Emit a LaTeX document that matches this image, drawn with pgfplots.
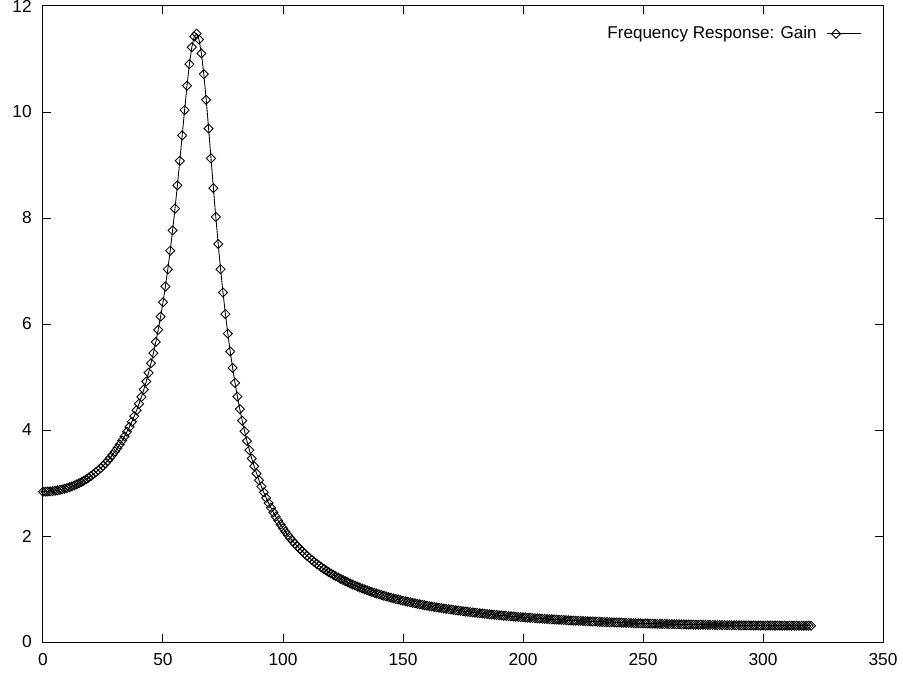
\documentclass[border=0pt]{standalone}
\usepackage{pgfplots}
\pgfplotsset{compat=1.18}
\usepackage{fontspec}
\setmainfont{Liberation Sans}
\begin{document}
\fontsize{12.8}{15.3}\selectfont
\begin{tikzpicture}
\useasboundingbox (-32.25pt,-25.5pt) rectangle (645pt,481.5pt);
\begin{axis}[
  at={(0pt,0pt)}, anchor=south west,
  scale only axis, width=630pt, height=477pt,
  xmin=0, xmax=350, ymin=0, ymax=12,
  xtick={0,50,...,350}, ytick={0,2,...,12},
  tick align=inside, major tick length=6pt,
  tick style={black, line width=0.75pt},
  axis line style={line width=0.75pt},
  every tick label/.append style={font=\fontsize{13}{15.5}\selectfont},
  /pgf/number format/assume math mode=true,
  yticklabel style={xshift=-4pt},
  xticklabel style={yshift=-4pt},
  clip=false,
  legend style={draw=none, fill=none, at={(0.979,0.977)}, anchor=north east, column sep=5pt, font=\fontsize{12.8}{15.3}\selectfont},
  legend plot pos=right,
  legend cell align=right,
  legend image code/.code={\draw[mark repeat=2,mark phase=2,#1] plot coordinates {(0cm,0cm) (0.25cm,0cm) (0.9cm,0cm)};},
]
\addplot[black, line width=0.65pt, mark=square, mark size=2.4pt, mark options={rotate=45, solid, line width=0.65pt}] coordinates {
(0,2.836)(1,2.837)(2,2.839)(3,2.842)(4,2.847)(5,2.853)(6,2.861)(7,2.870)(8,2.880)(9,2.892)
(10,2.905)(11,2.920)(12,2.936)(13,2.954)(14,2.974)(15,2.996)(16,3.019)(17,3.044)(18,3.071)(19,3.101)
(20,3.132)(21,3.166)(22,3.202)(23,3.241)(24,3.281)(25,3.325)(26,3.372)(27,3.422)(28,3.476)(29,3.533)
(30,3.594)(31,3.658)(32,3.727)(33,3.802)(34,3.881)(35,3.967)(36,4.057)(37,4.154)(38,4.259)(39,4.372)
(40,4.493)(41,4.623)(42,4.763)(43,4.915)(44,5.080)(45,5.258)(46,5.451)(47,5.661)(48,5.890)(49,6.140)
(50,6.412)(51,6.708)(52,7.031)(53,7.383)(54,7.765)(55,8.177)(56,8.616)(57,9.079)(58,9.558)(59,10.037)
(60,10.495)(61,10.902)(62,11.223)(63,11.425)(64,11.477)(65,11.369)(66,11.106)(67,10.714)(68,10.229)(69,9.688)
(70,9.125)(71,8.563)(72,8.021)(73,7.509)(74,7.033)(75,6.593)(76,6.188)(77,5.819)(78,5.481)(79,5.172)
(80,4.889)(81,4.631)(82,4.394)(83,4.176)(84,3.976)(85,3.791)(86,3.620)(87,3.462)(88,3.316)(89,3.179)
(90,3.052)(91,2.934)(92,2.823)(93,2.719)(94,2.622)(95,2.531)(96,2.445)(97,2.364)(98,2.287)(99,2.215)
(100,2.147)(101,2.082)(102,2.020)(103,1.961)(104,1.906)(105,1.854)(106,1.804)(107,1.757)(108,1.712)(109,1.668)
(110,1.626)(111,1.587)(112,1.549)(113,1.512)(114,1.477)(115,1.442)(116,1.410)(117,1.379)(118,1.349)(119,1.321)
(120,1.293)(121,1.266)(122,1.241)(123,1.216)(124,1.192)(125,1.169)(126,1.147)(127,1.126)(128,1.105)(129,1.085)
(130,1.065)(131,1.046)(132,1.027)(133,1.009)(134,0.992)(135,0.976)(136,0.960)(137,0.944)(138,0.929)(139,0.915)
(140,0.901)(141,0.887)(142,0.874)(143,0.861)(144,0.848)(145,0.836)(146,0.824)(147,0.812)(148,0.801)(149,0.790)
(150,0.779)(151,0.769)(152,0.759)(153,0.749)(154,0.739)(155,0.730)(156,0.720)(157,0.711)(158,0.702)(159,0.694)
(160,0.685)(161,0.677)(162,0.669)(163,0.661)(164,0.654)(165,0.647)(166,0.639)(167,0.632)(168,0.625)(169,0.619)
(170,0.612)(171,0.606)(172,0.599)(173,0.593)(174,0.587)(175,0.581)(176,0.575)(177,0.570)(178,0.564)(179,0.558)
(180,0.553)(181,0.548)(182,0.543)(183,0.538)(184,0.533)(185,0.528)(186,0.523)(187,0.519)(188,0.514)(189,0.510)
(190,0.505)(191,0.501)(192,0.497)(193,0.493)(194,0.489)(195,0.485)(196,0.481)(197,0.477)(198,0.473)(199,0.470)
(200,0.466)(201,0.463)(202,0.459)(203,0.456)(204,0.453)(205,0.450)(206,0.446)(207,0.443)(208,0.440)(209,0.437)
(210,0.434)(211,0.431)(212,0.428)(213,0.426)(214,0.423)(215,0.420)(216,0.417)(217,0.415)(218,0.412)(219,0.410)
(220,0.407)(221,0.405)(222,0.402)(223,0.400)(224,0.398)(225,0.396)(226,0.393)(227,0.391)(228,0.389)(229,0.387)
(230,0.385)(231,0.383)(232,0.381)(233,0.379)(234,0.377)(235,0.375)(236,0.373)(237,0.372)(238,0.370)(239,0.368)
(240,0.366)(241,0.364)(242,0.363)(243,0.361)(244,0.360)(245,0.358)(246,0.357)(247,0.355)(248,0.354)(249,0.352)
(250,0.351)(251,0.350)(252,0.348)(253,0.347)(254,0.346)(255,0.345)(256,0.343)(257,0.342)(258,0.341)(259,0.340)
(260,0.339)(261,0.338)(262,0.337)(263,0.336)(264,0.335)(265,0.334)(266,0.333)(267,0.332)(268,0.331)(269,0.330)
(270,0.329)(271,0.328)(272,0.327)(273,0.326)(274,0.326)(275,0.325)(276,0.324)(277,0.323)(278,0.323)(279,0.322)
(280,0.321)(281,0.320)(282,0.320)(283,0.319)(284,0.319)(285,0.318)(286,0.317)(287,0.317)(288,0.316)(289,0.316)
(290,0.315)(291,0.315)(292,0.314)(293,0.314)(294,0.313)(295,0.313)(296,0.312)(297,0.312)(298,0.311)(299,0.311)
(300,0.310)(301,0.310)(302,0.310)(303,0.310)(304,0.309)(305,0.309)(306,0.309)(307,0.309)(308,0.308)(309,0.308)
(310,0.308)(311,0.308)(312,0.308)(313,0.308)(314,0.307)(315,0.307)(316,0.307)(317,0.307)(318,0.307)(319,0.307)
(320,0.307)
};
\addlegendentry{Frequency Response: Gain}
\end{axis}
\end{tikzpicture}
\end{document}
